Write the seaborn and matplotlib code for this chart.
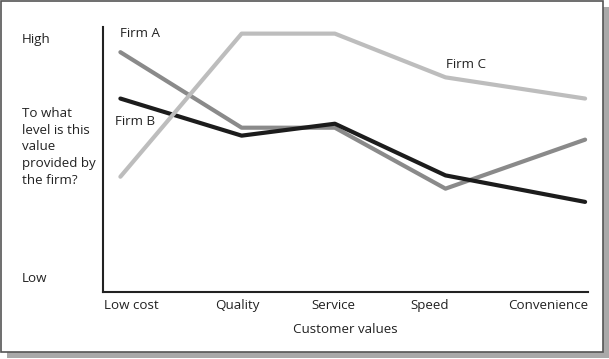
import matplotlib
matplotlib.use("Agg")
import matplotlib.pyplot as plt
from matplotlib.patches import Rectangle
import numpy as np
import pandas as pd
import seaborn as sns

# ---- data ----
values = ["Low cost", "Quality", "Service", "Speed", "Convenience"]
value_pos = [3.6, 28.7, 48.0, 70.9, 99.8]
label_pos = [0.2, 27.8, 47.6, 67.6, 100.4]
firm_a = [9.05, 6.2, 6.2, 3.9, 5.75]
firm_b = [7.3, 5.9, 6.35, 4.4, 3.4]
firm_c = [4.35, 9.75, 9.75, 8.1, 7.3]
firms = ["Firm A", "Firm B", "Firm C"]

df = pd.DataFrame({
    "pos": value_pos * 3,
    "value": values * 3,
    "level": firm_a + firm_b + firm_c,
    "firm": [f for f in firms for _ in values],
})

sns.set_style("white")
plt.rcParams["font.family"] = ["Open Sans", "DejaVu Sans"]
FS = 9.6
TXT = "#222222"

W, H = 609, 359
fig = plt.figure(figsize=(W / 100, H / 100), dpi=100)

# drop shadow + framed box
fig.patches.append(Rectangle((7 / W, 1 / H), 602 / W, 351 / H, transform=fig.transFigure,
                             facecolor="#a9a9a9", edgecolor="none", zorder=-3))
fig.patches.append(Rectangle((1 / W, 7 / H), 602 / W, 351 / H, transform=fig.transFigure,
                             facecolor="white", edgecolor="#555555", linewidth=1.2, zorder=-2))

ax = fig.add_axes([103 / W, 1 - 292 / H, 485 / W, 265 / H])
ax.set_facecolor("none")

palette = {"Firm A": "#8a8a8a", "Firm B": "#1c1c1c", "Firm C": "#bdbdbd"}
sns.lineplot(data=df, x="pos", y="level", hue="firm", palette=palette,
             linewidth=3.0, legend=False, ax=ax, sort=False)

ax.set_xlim(0, 100)
ax.set_ylim(0, 10)
sns.despine(ax=ax)
for s in ["left", "bottom"]:
    ax.spines[s].set_color("#222222")
    ax.spines[s].set_linewidth(1.5)

ax.set_yticks([])
ax.set_xticks(label_pos)
ax.set_xticklabels(values, fontsize=FS, color=TXT)
for lab, ha in zip(ax.get_xticklabels(), ["left", "center", "center", "center", "right"]):
    lab.set_ha(ha)
ax.tick_params(axis="x", length=0, pad=5)
ax.set_xlabel("Customer values", fontsize=FS, color=TXT, labelpad=8)
ax.set_ylabel("")

# firm labels
ax.text(3.5, 9.77, "Firm A", fontsize=FS, color=TXT, ha="left", va="center")
ax.text(2.5, 6.45, "Firm B", fontsize=FS, color=TXT, ha="left", va="center")
ax.text(71.1, 8.57, "Firm C", fontsize=FS, color=TXT, ha="left", va="center")

# y-axis annotations
fig.text(22 / W, 1 - 40 / H, "High", fontsize=FS, color=TXT, ha="left", va="center")
fig.text(22 / W, 1 - 278 / H, "Low", fontsize=FS, color=TXT, ha="left", va="center")
fig.text(22 / W, 1 - 147 / H, "To what\nlevel is this\nvalue\nprovided by\nthe firm?",
         fontsize=FS, color=TXT, ha="left", va="center", linespacing=1.38)

fig.savefig("out.png", dpi=100)
